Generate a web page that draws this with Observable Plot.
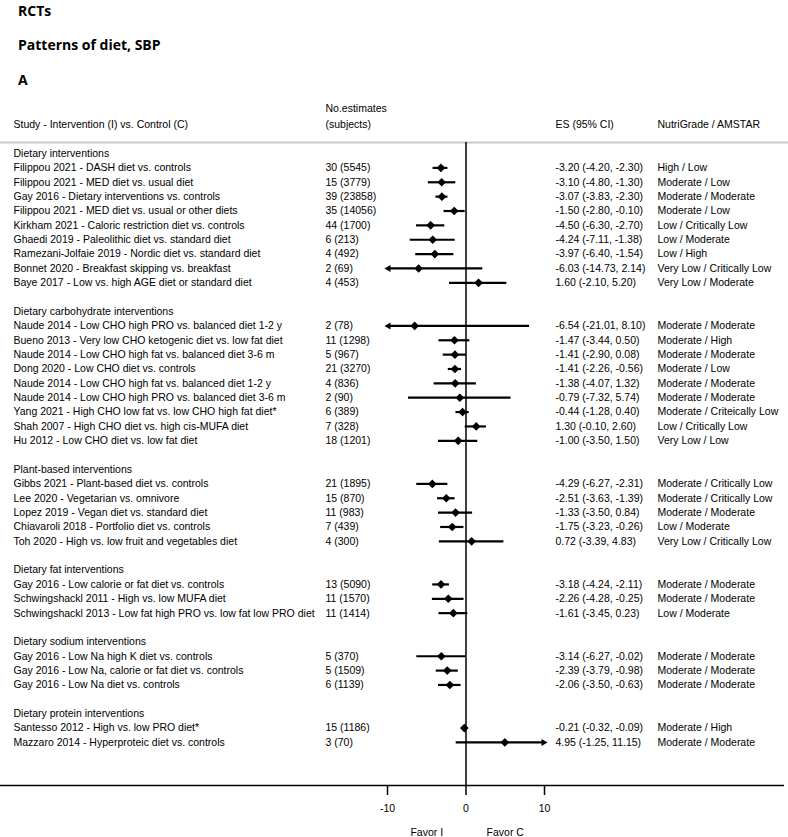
<!DOCTYPE html>
<html>
<head>
<meta charset="utf-8">
<script src="https://cdn.jsdelivr.net/npm/d3@7"></script>
<script src="https://cdn.jsdelivr.net/npm/@observablehq/plot@0.6"></script>
<style>
  body { margin: 0; background: white; }
  #titles { position: relative; height: 95px; width: 788px; font-family: "Open Sans", sans-serif; font-weight: 700; font-size: 14px; color: #000; }
  #titles div { position: absolute; left: 18px; line-height: 15px; white-space: nowrap; }
  #chart svg { display: block; }
</style>
</head>
<body>
<div id="titles">
  <div style="top:3px">RCTs</div>
  <div style="top:37px">Patterns of diet, SBP</div>
  <div style="top:72px">A</div>
</div>
<div id="chart"></div>
<script>
// ---- data ----
const groupNames = [
  "Dietary interventions",
  "Dietary carbohydrate interventions",
  "Plant-based interventions",
  "Dietary fat interventions",
  "Dietary sodium interventions",
  "Dietary protein interventions"
];
const studyGroup = [0,0,0,0,0,0,0,0,0, 1,1,1,1,1,1,1,1,1, 2,2,2,2,2, 3,3,3, 4,4,4, 5,5];
const studies = [
  "Filippou 2021 - DASH diet vs. controls",
  "Filippou 2021 - MED diet vs. usual diet",
  "Gay 2016 - Dietary interventions vs. controls",
  "Filippou 2021 - MED diet vs. usual or other diets",
  "Kirkham 2021 - Caloric restriction diet vs. controls",
  "Ghaedi 2019 - Paleolithic diet vs. standard diet",
  "Ramezani-Jolfaie 2019 - Nordic diet vs. standard diet",
  "Bonnet 2020 - Breakfast skipping vs. breakfast",
  "Baye 2017 - Low vs. high AGE diet or standard diet",
  "Naude 2014 - Low CHO high PRO vs. balanced diet 1-2 y",
  "Bueno 2013 - Very low CHO ketogenic diet vs. low fat diet",
  "Naude 2014 - Low CHO high fat vs. balanced diet 3-6 m",
  "Dong 2020 - Low CHO diet vs. controls",
  "Naude 2014 - Low CHO high fat vs. balanced diet 1-2 y",
  "Naude 2014 - Low CHO high PRO vs. balanced diet 3-6 m",
  "Yang 2021 - High CHO low fat vs. low CHO high fat diet*",
  "Shah 2007 - High CHO diet vs. high cis-MUFA diet",
  "Hu 2012 - Low CHO diet vs. low fat diet",
  "Gibbs 2021 - Plant-based diet vs. controls",
  "Lee 2020 - Vegetarian vs. omnivore",
  "Lopez 2019 - Vegan diet vs. standard diet",
  "Chiavaroli 2018 - Portfolio diet vs. controls",
  "Toh 2020 - High vs. low fruit and vegetables diet",
  "Gay 2016 - Low calorie or fat diet vs. controls",
  "Schwingshackl 2011 - High vs. low MUFA diet",
  "Schwingshackl 2013 - Low fat high PRO vs. low fat low PRO diet",
  "Gay 2016 - Low Na high K diet vs. controls",
  "Gay 2016 - Low Na, calorie or fat diet vs. controls",
  "Gay 2016 - Low Na diet vs. controls",
  "Santesso 2012 - High vs. low PRO diet*",
  "Mazzaro 2014 - Hyperproteic diet vs. controls"
];
const nEstimates = [
  "30 (5545)","15 (3779)","39 (23858)","35 (14056)","44 (1700)","6 (213)","4 (492)","2 (69)","4 (453)",
  "2 (78)","11 (1298)","5 (967)","21 (3270)","4 (836)","2 (90)","6 (389)","7 (328)","18 (1201)",
  "21 (1895)","15 (870)","11 (983)","7 (439)","4 (300)",
  "13 (5090)","11 (1570)","11 (1414)",
  "5 (370)","5 (1509)","6 (1139)",
  "15 (1186)","3 (70)"
];
const es = [-3.20,-3.10,-3.07,-1.50,-4.50,-4.24,-3.97,-6.03,1.60,
  -6.54,-1.47,-1.41,-1.41,-1.38,-0.79,-0.44,1.30,-1.00,
  -4.29,-2.51,-1.33,-1.75,0.72,
  -3.18,-2.26,-1.61,
  -3.14,-2.39,-2.06,
  -0.21,4.95];
const ciLow = [-4.20,-4.80,-3.83,-2.80,-6.30,-7.11,-6.40,-14.73,-2.10,
  -21.01,-3.44,-2.90,-2.26,-4.07,-7.32,-1.28,-0.10,-3.50,
  -6.27,-3.63,-3.50,-3.23,-3.39,
  -4.24,-4.28,-3.45,
  -6.27,-3.79,-3.50,
  -0.32,-1.25];
const ciHigh = [-2.30,-1.30,-2.30,-0.10,-2.70,-1.38,-1.54,2.14,5.20,
  8.10,0.50,0.08,-0.56,1.32,5.74,0.40,2.60,1.50,
  -2.31,-1.39,0.84,-0.26,4.83,
  -2.11,-0.25,0.23,
  -0.02,-0.98,-0.63,
  -0.09,11.15];
const grades = [
  "High / Low","Moderate / Low","Moderate / Moderate","Moderate / Low","Low / Critically Low","Low / Moderate","Low / High","Very Low / Critically Low","Very Low / Moderate",
  "Moderate / Moderate","Moderate / High","Moderate / Moderate","Moderate / Low","Moderate / Moderate","Moderate / Moderate","Moderate / Criteically Low","Low / Critically Low","Very Low / Low",
  "Moderate / Critically Low","Moderate / Critically Low","Moderate / Moderate","Low / Moderate","Very Low / Critically Low",
  "Moderate / Moderate","Moderate / Moderate","Low / Moderate",
  "Moderate / Moderate","Moderate / Moderate","Moderate / Moderate",
  "Moderate / High","Moderate / Moderate"
];
const xTicks = [-10, 0, 10];
const xDomain = [-10, 10];
const favorLabels = [{x: -5, label: "Favor I"}, {x: 5, label: "Favor C"}];

// ---- build rows ----
const rows = [], headers = [];
let r = 0;
groupNames.forEach((g, gi) => {
  headers.push({row: r, label: g});
  r++;
  studies.forEach((s, i) => {
    if (studyGroup[i] !== gi) return;
    rows.push({row: r, study: s, n: nEstimates[i], es: es[i], lo: ciLow[i], hi: ciHigh[i], grade: grades[i],
      esText: `${es[i].toFixed(2)} (${ciLow[i].toFixed(2)}, ${ciHigh[i].toFixed(2)})`});
    r++;
  });
  r++;
});
const yTop = -0.77, yAxis = 44;
const clamp = v => Math.max(xDomain[0], Math.min(xDomain[1], v));
const headerCols = [{row: -2, label: "Study - Intervention (I) vs. Control (C)"}];

const W = 788, ML = 387, MR = 244;
const FS = 10.5;
const chart = Plot.plot({
  width: W,
  height: 742,
  marginLeft: ML,
  marginRight: MR,
  marginTop: 47,
  marginBottom: 52,
  x: {domain: xDomain},
  y: {domain: [yTop, yAxis], reverse: true, axis: null},
  style: {fontFamily: "'Liberation Sans', Arial, sans-serif", fontSize: FS + "px", color: "black", background: "white", overflow: "visible"},
  marks: [
    Plot.ruleY([yTop], {stroke: "#c8c8c8", strokeWidth: 2, insetLeft: -ML, insetRight: -MR}),
    Plot.ruleY([yAxis], {stroke: "black", strokeWidth: 1.5, insetLeft: -ML, insetRight: -(MR - 4)}),
    Plot.ruleX([0], {stroke: "black", strokeWidth: 1.5}),
    Plot.axisX({ticks: xTicks, tickSize: 10, tickPadding: 9, tickFormat: d => String(d), strokeWidth: 1.5, fontSize: FS}),
    Plot.ruleY(rows, {y: "row", x1: d => clamp(d.lo), x2: d => clamp(d.hi), stroke: "black", strokeWidth: 2.2}),
    Plot.dot(rows.filter(d => d.lo < xDomain[0]), {x: () => xDomain[0], y: "row", symbol: "triangle", rotate: -90, r: 2.6, dx: 1, fill: "black"}),
    Plot.dot(rows.filter(d => d.hi > xDomain[1]), {x: () => xDomain[1], y: "row", symbol: "triangle", rotate: 90, r: 2.6, dx: -1, fill: "black"}),
    Plot.dot(rows, {x: "es", y: "row", symbol: "diamond2", r: 3.9, fill: "black"}),
    // left column
    Plot.text(headers, {y: "row", text: "label", frameAnchor: "left", dx: 13 - ML, textAnchor: "start", fill: "black"}),
    Plot.text(rows, {y: "row", text: "study", frameAnchor: "left", dx: 13 - ML, textAnchor: "start", fill: "black"}),
    Plot.text(headerCols, {y: "row", text: "label", frameAnchor: "left", dx: 13 - ML, textAnchor: "start", fill: "black"}),
    // No. estimates column
    Plot.text([{row: -3.1, label: "No.estimates"}, {row: -2, label: "(subjects)"}], {y: "row", text: "label", frameAnchor: "left", dx: 325 - ML, textAnchor: "start", fill: "black"}),
    Plot.text(rows, {y: "row", text: "n", frameAnchor: "left", dx: 325 - ML, textAnchor: "start", fill: "black"}),
    // ES column
    Plot.text([{row: -2, label: "ES (95% CI)"}], {y: "row", text: "label", frameAnchor: "right", dx: 555 - (W - MR), textAnchor: "start", fill: "black"}),
    Plot.text(rows, {y: "row", text: "esText", frameAnchor: "right", dx: 555 - (W - MR), textAnchor: "start", fill: "black"}),
    // Grade column
    Plot.text([{row: -2, label: "NutriGrade / AMSTAR"}], {y: "row", text: "label", frameAnchor: "right", dx: 657 - (W - MR), textAnchor: "start", fill: "black"}),
    Plot.text(rows, {y: "row", text: "grade", frameAnchor: "right", dx: 657 - (W - MR), textAnchor: "start", fill: "black"}),
    // favor labels
    Plot.text(favorLabels, {x: "x", text: "label", frameAnchor: "bottom", dy: 50, fill: "black"})
  ]
});
document.getElementById("chart").appendChild(chart);
</script>
</body>
</html>
